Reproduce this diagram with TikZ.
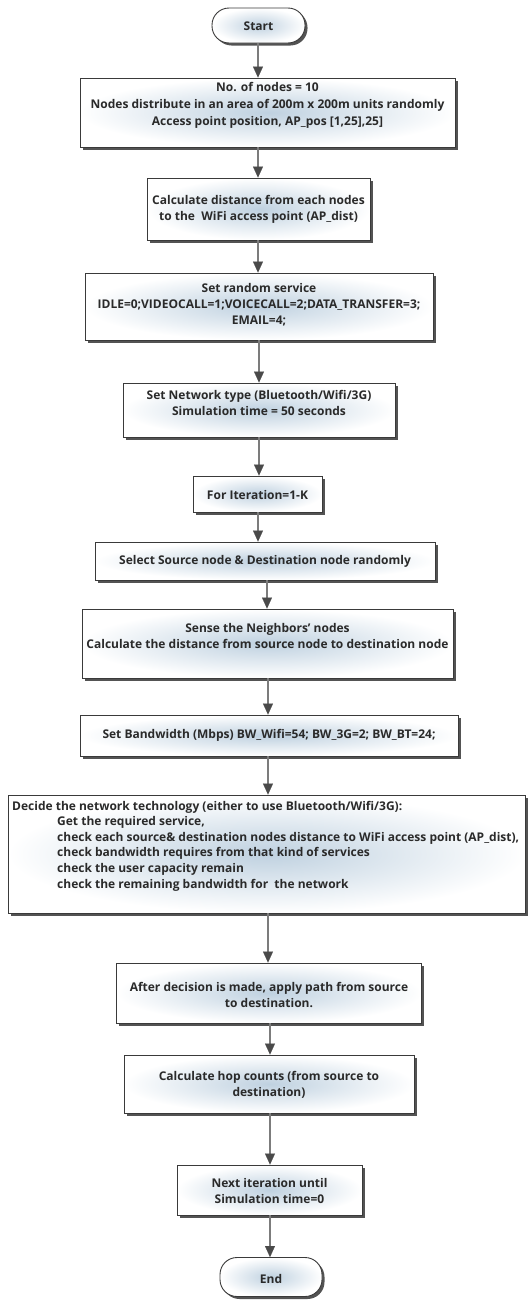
\documentclass[tikz,border=0pt]{standalone}
\usepackage{fontspec}
\setmainfont{Open Sans}
\usetikzlibrary{shadows,arrows.meta,calc}
\definecolor{boxin}{HTML}{BFD1E0}
\definecolor{edgec}{HTML}{3A3A3A}
\definecolor{arrline}{HTML}{7C7C7C}
\definecolor{arrhead}{HTML}{4A4A4A}
\definecolor{txtc}{HTML}{2A2A2A}
\tikzset{
  box/.style={draw=edgec, line width=0.9pt, shading=radial, inner color=boxin, outer color=white,
    drop shadow={shadow xshift=2.5pt, shadow yshift=-2.5pt, fill=black!75, opacity=0.9},
    inner sep=0pt, rectangle},
  pill/.style={box, rounded corners=17pt},
  lbl/.style={font=\bfseries\fontsize{12}{16}\selectfont, text=txtc, align=center, inner sep=0pt},
  arr/.style={draw=arrline, line width=2.6pt, -{Triangle[width=10pt,length=11pt,color=arrhead,line width=0.1pt]}}
}
\begin{document}
\begin{tikzpicture}[x=1pt,y=1pt]
\useasboundingbox (0,0) rectangle (528,-1301);
% boxes
\node[pill, minimum width=93pt, minimum height=35pt] (start) at (258.5,-25.5) {};
\node[box, minimum width=375pt, minimum height=69pt] (b1) at (267.5,-112.5) {};
\node[box, minimum width=223pt, minimum height=62pt] (b2) at (258.5,-209) {};
\node[box, minimum width=348pt, minimum height=67pt] (b3) at (259,-306.5) {};
\node[box, minimum width=272pt, minimum height=54pt] (b4) at (259,-410) {};
\node[box, minimum width=129pt, minimum height=36pt] (b5) at (257.5,-494) {};
\node[box, minimum width=340pt, minimum height=38pt] (b6) at (265,-561) {};
\node[box, minimum width=371pt, minimum height=69pt] (b7) at (267.5,-643.5) {};
\node[box, minimum width=378pt, minimum height=41pt] (b8) at (269,-735.5) {};
\node[box, minimum width=517pt, minimum height=118pt] (b9) at (266.5,-854) {};
\node[box, minimum width=305pt, minimum height=60pt] (b10) at (269,-993) {};
\node[box, minimum width=290pt, minimum height=58pt] (b11) at (269,-1084) {};
\node[box, minimum width=185pt, minimum height=50pt] (b12) at (269.5,-1190) {};
\node[pill, minimum width=102pt, minimum height=39pt] (end) at (271,-1277) {};
% texts
\node[lbl] (tstart) at (258.5,-26.5) {Start};
\node[lbl, font=\bfseries\fontsize{12}{17}\selectfont] (t1) at (267.5,-105) {No. of nodes = 10\\Nodes distribute in an area of 200m x 200m units randomly\\Access point position, AP\_pos [1,25],25]};
\node[lbl] (t2) at (258.5,-209.5) {Calculate distance from each nodes\\to the\ \ WiFi access point (AP\_dist)};
\node[lbl] (t3) at (259,-305) {Set random service\\IDLE=0;VIDEOCALL=1;VOICECALL=2;DATA\_TRANSFER=3;\\EMAIL=4;};
\node[lbl] (t4) at (259,-402.5) {Set Network type (Bluetooth/Wifi/3G)\\Simulation time = 50 seconds};
\node[lbl] (t5) at (257.5,-495) {For Iteration=1-K};
\node[lbl] (t6) at (265,-561) {Select Source node \& Destination node randomly};
\node[lbl] (t7) at (267.5,-635.5) {Sense the Neighbors' nodes\\Calculate the distance from source node to destination node};
\node[lbl] (t8) at (269,-735.5) {Set Bandwidth (Mbps) BW\_Wifi=54; BW\_3G=2; BW\_BT=24;};
\node[lbl, align=left, anchor=west, font=\bfseries\fontsize{12}{15.6}\selectfont] (t9) at (12,-846) {Decide the network technology (either to use Bluetooth/Wifi/3G):\\
\hspace*{45pt}Get the required service,\\
\hspace*{45pt}check each source\& destination nodes distance to WiFi access point (AP\_dist),\\
\hspace*{45pt}check bandwidth requires from that kind of services\\
\hspace*{45pt}check the user capacity remain\\
\hspace*{45pt}check the remaining bandwidth for\ \ the network};
\node[lbl] (t10) at (269,-994.5) {After decision is made, apply path from source\\to destination.};
\node[lbl] (t11) at (269,-1085) {Calculate hop counts (from source to\\destination)};
\node[lbl] (t12) at (269.5,-1191) {Next iteration until\\Simulation time=0};
\node[lbl] (tend) at (271,-1279) {End};
% arrows
\draw[arr] (start.south -| 258,0) -- (b1.north -| 258,0);
\draw[arr] (b1.south -| 258,0) -- (b2.north -| 258,0);
\draw[arr] (b2.south -| 258,0) -- (b3.north -| 258,0);
\draw[arr] (b3.south -| 259,0) -- (b4.north -| 259,0);
\draw[arr] (b4.south -| 259,0) -- (b5.north -| 259,0);
\draw[arr] (b5.south -| 258,0) -- (b6.north -| 258,0);
\draw[arr] (b6.south -| 267,0) -- (b7.north -| 267,0);
\draw[arr] (b7.south -| 268,0) -- (b8.north -| 268,0);
\draw[arr] (b8.south -| 268,0) -- (b9.north -| 268,0);
\draw[arr] (b9.south -| 268,0) -- (b10.north -| 268,0);
\draw[arr] (b10.south -| 270,0) -- (b11.north -| 270,0);
\draw[arr] (b11.south -| 270,0) -- (b12.north -| 270,0);
\draw[arr] (b12.south -| 270,0) -- (end.north -| 270,0);
\end{tikzpicture}
\end{document}
